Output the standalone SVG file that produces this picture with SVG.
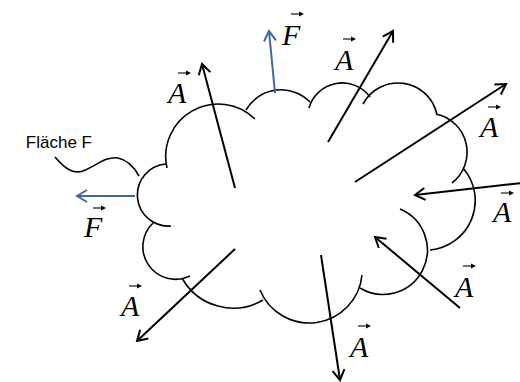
<svg xmlns="http://www.w3.org/2000/svg" width="520" height="382" viewBox="0 0 520 382">
<style>
.cloud{fill:none;stroke:#000;stroke-width:1.6}
.arr{fill:none;stroke:#000;stroke-width:2;marker-end:url(#ha)}
.farr{fill:none;stroke:#3F699C;stroke-width:2;marker-end:url(#hf)}
.lbl{font-family:"Liberation Serif","Times New Roman",serif;font-style:italic;font-size:30px;fill:#000}
.vec{fill:none;stroke:#000;stroke-width:1.1}
.vh{fill:#000}
.txt{font-family:"Liberation Sans",Arial,sans-serif;font-size:17px;fill:#000}
</style>
<defs>
<marker id="ha" viewBox="-12 -8 14 16" refX="0" refY="0" markerWidth="14" markerHeight="16" markerUnits="userSpaceOnUse" orient="auto">
<path d="M-10,-6 L0,0 L-10,6" fill="none" stroke="#000" stroke-width="2"/>
</marker>
<marker id="hf" viewBox="-12 -8 14 16" refX="0" refY="0" markerWidth="14" markerHeight="16" markerUnits="userSpaceOnUse" orient="auto">
<path d="M-10,-6 L0,0 L-10,6" fill="none" stroke="#3F699C" stroke-width="2"/>
</marker>
<g id="vecarrow"><path class="vec" d="M0,0 H10"/><path class="vh" d="M13,0 L8,-2.5 L8,2.5 Z"/></g>
</defs>
<g id="surface">
<path class="cloud" d="M167,168 A52.5,52.5 0 0 1 255,119 M246,110 A40.4,40.4 0 0 1 310,102 M309,108 A34.5,34.5 0 0 1 370,97 M363,104 A39.7,39.7 0 0 1 437,115 M436,114 A39,39 0 0 1 452,183 M463,168 A49.6,49.6 0 0 1 430,250 M400,209 A44.4,44.4 0 1 1 360,288 M362,275 A53.1,53.1 0 0 1 260,290 M263,300 A58.7,58.7 0 0 1 182,278 M190,276 A32.7,32.7 0 0 1 153,223 M171,226 A31,31 0 1 1 166,164"/>
</g>
<g id="flaeche-label">
<text class="txt" x="92" y="148" text-anchor="end">Fläche F</text>
<path class="cloud" d="M55,157 C66,170 74,174 83,171 C96,166 106,156 118,158 C128,160 134,167 139,176"/>
</g>
<g id="connectors">
<path class="arr" d="M235,188 L202,64"/>
<path class="farr" d="M275,93 L269,31"/>
<path class="arr" d="M328,142 L393,31"/>
<path class="arr" d="M355,182 L506,84"/>
<path class="arr" d="M522,183 L415,195"/>
<path class="arr" d="M460,308 L375,237"/>
<path class="arr" d="M321,255 L340,380"/>
<path class="arr" d="M235,249 L137,341"/>
<path class="farr" d="M135,196 L77,196"/>
</g>
<g id="labels">
<g id="lbl-a1"><text class="lbl" x="168" y="103">A</text><use href="#vecarrow" x="178" y="73"/></g>
<g id="lbl-f1"><text class="lbl" x="282" y="45">F</text><use href="#vecarrow" x="291" y="14"/></g>
<g id="lbl-a2"><text class="lbl" x="335" y="70">A</text><use href="#vecarrow" x="343" y="39"/></g>
<g id="lbl-a3"><text class="lbl" x="480" y="137">A</text><use href="#vecarrow" x="488" y="107"/></g>
<g id="lbl-a4"><text class="lbl" x="493" y="222">A</text><use href="#vecarrow" x="501" y="193"/></g>
<g id="lbl-a5"><text class="lbl" x="455" y="297">A</text><use href="#vecarrow" x="463" y="266"/></g>
<g id="lbl-a6"><text class="lbl" x="350" y="357">A</text><use href="#vecarrow" x="358" y="326"/></g>
<g id="lbl-a7"><text class="lbl" x="121" y="316">A</text><use href="#vecarrow" x="129" y="286"/></g>
<g id="lbl-f2"><text class="lbl" x="84" y="237">F</text><use href="#vecarrow" x="93" y="208"/></g>
</g>
</svg>
